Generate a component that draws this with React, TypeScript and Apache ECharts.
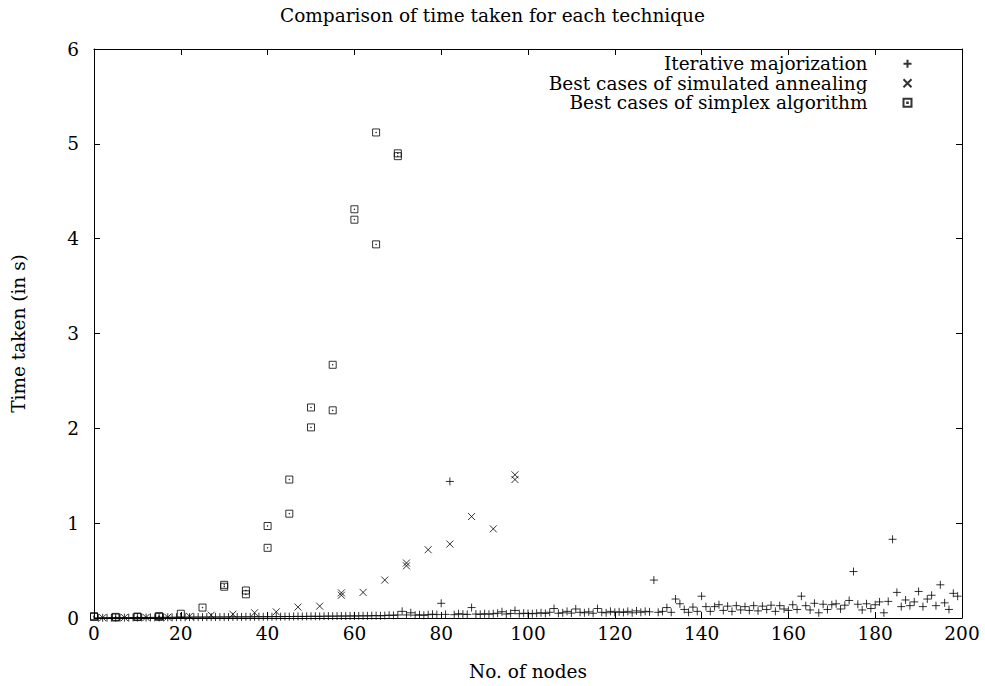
import { useEffect, useRef } from "react";
import * as echarts from "echarts";

const titleText = "Comparison of time taken for each technique";
const xAxisName = "No. of nodes";
const yAxisName = "Time taken (in s)";
const seriesNames = [
  "Iterative majorization",
  "Best cases of simulated annealing",
  "Best cases of simplex algorithm",
];

// Iterative majorization: one value per node, nodes 1..199
const majorStartNode = 1;
const majorTimes = [
  0.002, 0.002, 0.003, 0.003, 0.003, 0.004, 0.004, 0.004, 0.005, 0.005,
  0.005, 0.005, 0.006, 0.006, 0.006, 0.007, 0.007, 0.007, 0.008, 0.008,
  0.008, 0.009, 0.009, 0.010, 0.009, 0.010, 0.010, 0.011, 0.010, 0.011,
  0.011, 0.012, 0.012, 0.011, 0.013, 0.012, 0.013, 0.014, 0.013, 0.014,
  0.014, 0.015, 0.014, 0.016, 0.015, 0.016, 0.017, 0.016, 0.017, 0.018,
  0.018, 0.017, 0.019, 0.020, 0.019, 0.020, 0.021, 0.020, 0.022, 0.021,
  0.022, 0.023, 0.022, 0.024, 0.025, 0.023, 0.026, 0.030, 0.028, 0.032,
  0.070, 0.032, 0.055, 0.030, 0.034, 0.028, 0.035, 0.040, 0.036, 0.155,
  0.038, 1.440, 0.035, 0.045, 0.040, 0.038, 0.110, 0.042, 0.038, 0.045,
  0.040, 0.045, 0.050, 0.066, 0.042, 0.048, 0.080, 0.045, 0.050, 0.048,
  0.045, 0.050, 0.055, 0.048, 0.060, 0.100, 0.050, 0.055, 0.070, 0.052,
  0.095, 0.060, 0.055, 0.065, 0.050, 0.100, 0.060, 0.055, 0.070, 0.060,
  0.065, 0.058, 0.070, 0.055, 0.075, 0.060, 0.070, 0.065, 0.400, 0.060,
  0.070, 0.110, 0.060, 0.200, 0.150, 0.090, 0.060, 0.115, 0.070, 0.230,
  0.120, 0.070, 0.120, 0.140, 0.080, 0.125, 0.070, 0.130, 0.085, 0.120,
  0.080, 0.130, 0.075, 0.125, 0.090, 0.135, 0.070, 0.130, 0.095, 0.080,
  0.140, 0.090, 0.230, 0.130, 0.085, 0.155, 0.055, 0.145, 0.090, 0.140,
  0.150, 0.095, 0.135, 0.185, 0.490, 0.145, 0.085, 0.150, 0.100, 0.140,
  0.170, 0.055, 0.175, 0.830, 0.270, 0.120, 0.190, 0.130, 0.170, 0.280,
  0.120, 0.200, 0.240, 0.130, 0.350, 0.160, 0.090, 0.260, 0.230,
];

const annealNodes = [2, 7, 12, 17, 22, 27, 32, 37, 42, 47, 52, 57, 57, 62, 67, 72, 72, 77, 82, 87, 92, 97, 97];
const annealTimes = [0.004, 0.005, 0.006, 0.008, 0.018, 0.03, 0.04, 0.055, 0.065, 0.115, 0.125, 0.24, 0.265, 0.27, 0.4, 0.55, 0.58, 0.72, 0.78, 1.07, 0.94, 1.46, 1.51];

const simplexNodes = [0, 0, 5, 5, 10, 10, 15, 15, 20, 25, 30, 30, 35, 35, 40, 40, 45, 45, 50, 50, 55, 55, 60, 60, 65, 65, 70, 70];
const simplexTimes = [0.01, 0.02, 0.005, 0.012, 0.01, 0.015, 0.012, 0.02, 0.045, 0.11, 0.33, 0.35, 0.25, 0.29, 0.97, 0.74, 1.46, 1.1, 2.22, 2.01, 2.67, 2.19, 4.31, 4.2, 5.12, 3.94, 4.87, 4.9];

const xTicks = { min: 0, max: 200, interval: 20 };
const yTicks = { min: 0, max: 6, interval: 1 };

const FONT = "DejaVu Serif";
const FS = 18.5;

const plusPath = "path://M0,4H8M4,0V8";
const crossPath = "path://M0,0L7,7M0,7L7,0";
const boxPath = "path://M0,0H7V7H0ZM3.2,3.2H3.8V3.8H3.2Z";

export default function App() {
  const ref = useRef<HTMLDivElement>(null);
  useEffect(() => {
    if (!ref.current) return;
    const chart = echarts.init(ref.current, null, { renderer: "svg" });
    const txt = { color: "#000", fontFamily: FONT, fontSize: FS };
    const axisCommon = {
      axisLine: { show: true, onZero: false, lineStyle: { color: "#000", width: 1 } },
      axisTick: { show: true, inside: true, length: 6, lineStyle: { color: "#000", width: 1 } },
      splitLine: { show: false },
    };
    const markStyle = { color: "none", borderColor: "#000", borderWidth: 1 };
    chart.setOption({
      animation: false,
      backgroundColor: "#fff",
      title: {
        text: titleText,
        left: "center",
        top: 6,
        padding: [0, 0, 0, 70],
        textStyle: { ...txt, fontWeight: "normal" },
      },
      legend: {
        orient: "vertical",
        align: "right",
        right: 71,
        top: 54,
        padding: 0,
        itemGap: 0,
        itemWidth: 8,
        itemHeight: 8,
        data: [
          { name: seriesNames[0], icon: plusPath },
          { name: seriesNames[1], icon: crossPath },
          { name: seriesNames[2], icon: boxPath },
        ],
        textStyle: { ...txt, lineHeight: 19.5, padding: [0, 31, 0, 0] },
      },
      grid: { left: 94, right: 23, top: 49, bottom: 64 },
      xAxis: [
        {
          type: "value",
          ...xTicks,
          position: "bottom",
          ...axisCommon,
          axisLabel: { ...txt, margin: 6 },
          name: xAxisName,
          nameLocation: "middle",
          nameGap: 44,
          nameTextStyle: txt,
        },
        {
          type: "value",
          ...xTicks,
          position: "top",
          ...axisCommon,
          axisLabel: { show: false },
        },
      ],
      yAxis: [
        {
          type: "value",
          ...yTicks,
          position: "left",
          ...axisCommon,
          axisLabel: { ...txt, margin: 15 },
          name: yAxisName,
          nameLocation: "middle",
          nameGap: 66,
          nameTextStyle: txt,
        },
        {
          type: "value",
          ...yTicks,
          position: "right",
          ...axisCommon,
          axisLabel: { show: false },
        },
      ],
      series: [
        {
          name: seriesNames[0],
          type: "scatter",
          symbol: plusPath,
          symbolSize: 8,
          itemStyle: markStyle,
          data: majorTimes.map((t, i) => [majorStartNode + i, t]),
        },
        {
          name: seriesNames[1],
          type: "scatter",
          symbol: crossPath,
          symbolSize: 7,
          itemStyle: markStyle,
          data: annealTimes.map((t, i) => [annealNodes[i], t]),
        },
        {
          name: seriesNames[2],
          type: "scatter",
          symbol: boxPath,
          symbolSize: 7,
          itemStyle: markStyle,
          data: simplexTimes.map((t, i) => [simplexNodes[i], t]),
        },
      ],
    });
    return () => chart.dispose();
  }, []);
  return <div ref={ref} style={{ width: 985, height: 686, position: "absolute", left: 0, top: 0 }} />;
}
